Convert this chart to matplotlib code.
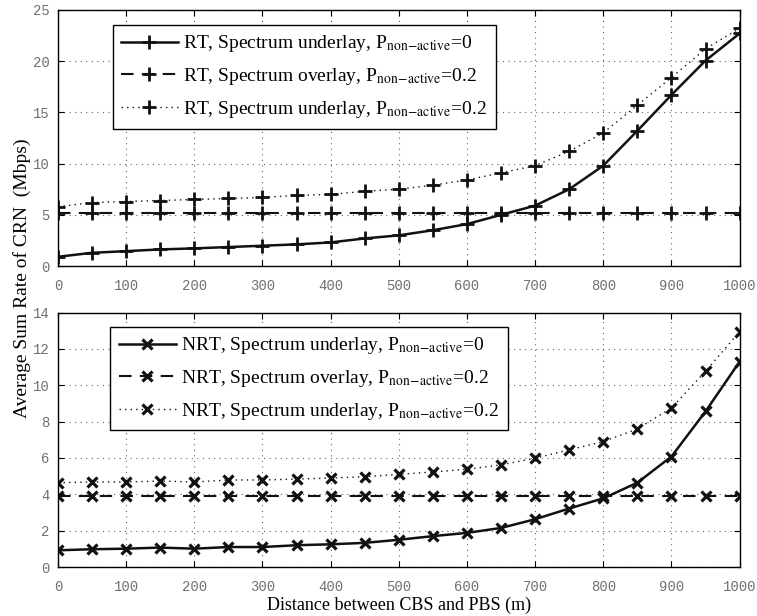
import matplotlib
matplotlib.use("Agg")
import matplotlib.pyplot as plt

plt.rcParams["mathtext.fontset"] = "stix"
plt.rcParams["font.family"] = ["Liberation Serif", "DejaVu Serif"]

# distance between CBS and PBS (m)
distance = [0, 50, 100, 150, 200, 250, 300, 350, 400, 450, 500,
            550, 600, 650, 700, 750, 800, 850, 900, 950, 1000]

# real-time traffic, average sum rate (Mbps)
rt_underlay_p0 = [0.91, 1.3, 1.46, 1.63, 1.73, 1.86, 1.99, 2.12, 2.31, 2.7, 3.0,
                  3.5, 4.1, 5.0, 5.9, 7.5, 9.8, 13.2, 16.7, 20.05, 22.7]
rt_overlay_p02 = [5.15] * len(distance)
rt_underlay_p02 = [5.8, 6.2, 6.3, 6.4, 6.5, 6.6, 6.7, 6.9, 7.0, 7.3, 7.5,
                   7.9, 8.4, 9.1, 9.8, 11.2, 13.0, 15.7, 18.4, 21.2, 23.2]

# non-real-time traffic, average sum rate (Mbps)
nrt_underlay_p0 = [0.92, 0.98, 1.01, 1.07, 1.01, 1.10, 1.10, 1.2, 1.25, 1.33, 1.5,
                   1.7, 1.88, 2.15, 2.63, 3.22, 3.78, 4.64, 6.08, 8.56, 11.3]
nrt_overlay_p02 = [3.9] * len(distance)
nrt_underlay_p02 = [4.64, 4.68, 4.68, 4.73, 4.68, 4.79, 4.79, 4.84, 4.9, 4.97, 5.1,
                    5.23, 5.38, 5.62, 5.99, 6.45, 6.9, 7.6, 8.75, 10.77, 12.95]

sub = r"P$_{\mathrm{non\!-\!active}}$"
rt_labels = ["RT, Spectrum underlay, " + sub + "=0",
             "RT, Spectrum overlay, " + sub + "=0.2",
             "RT, Spectrum underlay, " + sub + "=0.2"]
nrt_labels = ["NRT, Spectrum underlay, " + sub + "=0",
              "NRT, Spectrum overlay, " + sub + "=0.2",
              "NRT, Spectrum underlay, " + sub + "=0.2"]

fig = plt.figure(figsize=(7.57, 6.16), dpi=100)
ax_top = fig.add_axes([0.0766, 0.568, 0.9004, 0.416])
ax_bot = fig.add_axes([0.0766, 0.0795, 0.9004, 0.413])

styles = [dict(ls="-", lw=1.8), dict(ls=(0, (6, 4)), lw=1.5), dict(ls=(0, (1, 3)), lw=1.0)]


def style_axes(ax, ylim, yticks):
    ax.set_xlim(0, 1000)
    ax.set_ylim(*ylim)
    ax.set_xticks(range(0, 1001, 100))
    ax.set_yticks(yticks)
    ax.grid(True, ls=(0, (1, 4)), lw=0.8, color="#666666")
    ax.tick_params(direction="in", top=True, right=True, length=4, width=0.8,
                   labelsize=10, labelcolor="#707070", pad=6)
    ax.tick_params(axis="x", pad=9)
    for lab in ax.get_xticklabels() + ax.get_yticklabels():
        lab.set_fontfamily("Liberation Mono")
    for sp in ax.spines.values():
        sp.set_linewidth(1.0)


def add_legend(ax, anchor):
    leg = ax.legend(loc="upper left", bbox_to_anchor=anchor, fontsize=14,
                    fancybox=False, edgecolor="black", framealpha=1, handlelength=2.9,
                    borderpad=0.45, labelspacing=0.6, handletextpad=0.3,
                    borderaxespad=0)
    leg.get_frame().set_linewidth(1.0)


for ys, lab, st in zip([rt_underlay_p0, rt_overlay_p02, rt_underlay_p02], rt_labels, styles):
    ax_top.plot(distance, ys, color="#111111", marker="+", ms=9.5, mew=2.0, label=lab, **st)
style_axes(ax_top, (0, 25), range(0, 26, 5))
add_legend(ax_top, (0.08, 0.942))

for ys, lab, st in zip([nrt_underlay_p0, nrt_overlay_p02, nrt_underlay_p02], nrt_labels, styles):
    ax_bot.plot(distance, ys, color="#111111", marker="x", ms=6.5, mew=2.3, label=lab, **st)
style_axes(ax_bot, (0, 14), range(0, 15, 2))
add_legend(ax_bot, (0.077, 0.945))

ax_bot.set_xlabel("Distance between CBS and PBS (m)", fontsize=13, labelpad=2)
fig.text(0.029, 0.549, "Average Sum Rate of CRN  (Mbps)", rotation=90,
         ha="center", va="center", fontsize=14)

fig.savefig("out.png", dpi=100)
